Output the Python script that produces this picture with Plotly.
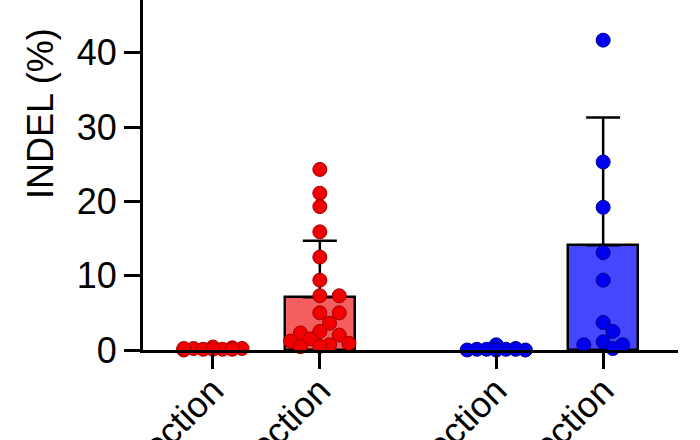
import plotly.graph_objects as go

# ---------------- data ----------------
categories = ["Non-injection", "Injection", "Non-injection", "Injection"]
group_colors = ["red", "red", "blue", "blue"]
means = [0.15, 7.1, 0.2, 14.1]
sds = [0.1, 7.6, 0.3, 17.2]

points_g1 = [0.4, 0.3, 0.2, 0.1, 0.2, 0.1, 0.0, 0.1, 0.2, 0.1]
points_g2 = [24.3, 21.1, 19.3, 15.9, 12.5, 9.4, 7.3, 7.3, 5.0, 5.0,
             3.6, 2.5, 2.0, 2.3, 1.5, 1.2, 0.7, 0.9, 0.45, 0.5]
points_g3 = [0.7, 0.2, 0.1, 0.1, 0.0, 0.1, 0.0, 0.1, 0.1, 0.0]
points_g4 = [41.7, 25.3, 19.2, 13.1, 9.4, 3.7, 2.5, 1.1, 0.7, 0.7, 0.2]
all_points = [points_g1, points_g2, points_g3, points_g4]

y_ticks = [0, 10, 20, 30, 40]
y_title = "INDEL (%)"

# ---------------- styling ----------------
FONT = "Liberation Sans, Arial, sans-serif"
bar_fill = {"red": "#F45E5E", "blue": "#4646FF"}
dot_fill = {"red": "#F00000", "blue": "#0000EE"}
dot_line = {"red": "#A00000", "blue": "#000090"}

W, H = 700, 440
ML, MR, MT, MB = 143, 22, 0, 90
Y_RANGE = [0, 47.1]
X_RANGE = [-0.654, 4.35]
px_per_x = (W - ML - MR) / (X_RANGE[1] - X_RANGE[0])
px_per_y = (H - MT - MB) / (Y_RANGE[1] - Y_RANGE[0])

# x positions: two groups of two bars with a gap between groups
positions = [i + 0.65 * (i // 2) for i in range(len(categories))]


def swarm(vals, step_px=9.7, dmin=12.5, kmax=3):
    """Simple beeswarm: returns x offsets (data units) for each value."""
    order = [0]
    for k in range(1, kmax + 1):
        order += [k, -k]
    placed = []
    offs = []
    for v in vals:
        y = v * px_per_y
        best_k, best_d = 0, -1
        chosen = None
        for k in order:
            x = k * step_px
            md = min([((x - px) ** 2 + (y - py) ** 2) ** 0.5 for px, py in placed] or [1e9])
            if md >= dmin:
                chosen = k
                break
            if md > best_d:
                best_d, best_k = md, k
        if chosen is None:
            chosen = best_k
        placed.append((chosen * step_px, y))
        offs.append(chosen * step_px / px_per_x)
    return offs


fig = go.Figure()

# bars with upward SD error bars
for i, cat in enumerate(categories):
    c = group_colors[i]
    fig.add_trace(go.Bar(
        x=[positions[i]], y=[means[i]], width=0.65,
        marker=dict(color=bar_fill[c], line=dict(color="black", width=2.5)),
        error_y=dict(type="data", symmetric=False, array=[sds[i]], arrayminus=[0],
                     color="black", thickness=2.5, width=17),
        showlegend=False, hoverinfo="skip",
    ))

# individual points
for i, pts in enumerate(all_points):
    c = group_colors[i]
    offs = swarm(pts)
    fig.add_trace(go.Scatter(
        x=[positions[i] + o for o in offs], y=pts, mode="markers",
        marker=dict(size=14, color=dot_fill[c], line=dict(color=dot_line[c], width=1)),
        showlegend=False, cliponaxis=False,
    ))

fig.update_layout(
    width=W, height=H,
    margin=dict(l=ML, r=MR, t=MT, b=MB, pad=0),
    paper_bgcolor="white", plot_bgcolor="white",
    font=dict(family=FONT, color="black", size=36),
    bargap=0,
    annotations=[dict(
        text=y_title, textangle=-90, xref="paper", yref="paper",
        x=0, xshift=-ML + 40, y=(350 - 114) / 350, xanchor="center", yanchor="middle",
        showarrow=False, font=dict(family=FONT, size=36, color="black"),
    )],
)
fig.update_xaxes(
    range=X_RANGE, tickmode="array", tickvals=positions, ticktext=categories,
    tickangle=-45, ticks="outside", ticklen=16, tickwidth=3, tickcolor="black",
    showline=True, linecolor="black", linewidth=3, showgrid=False, zeroline=False,
    tickfont=dict(family=FONT, size=36, color="black"), automargin=False,
    ticklabelstandoff=-14,
)
fig.update_yaxes(
    range=Y_RANGE, tickmode="array", tickvals=y_ticks, ticktext=[str(t) for t in y_ticks],
    ticks="outside", ticklen=16, tickwidth=3, tickcolor="black",
    showline=True, linecolor="black", linewidth=3, showgrid=False, zeroline=False,
    tickfont=dict(family=FONT, size=36, color="black"), automargin=False,
)

fig.write_html("out.html", config={"displayModeBar": False},
               post_script="document.body.style.margin='0';")
